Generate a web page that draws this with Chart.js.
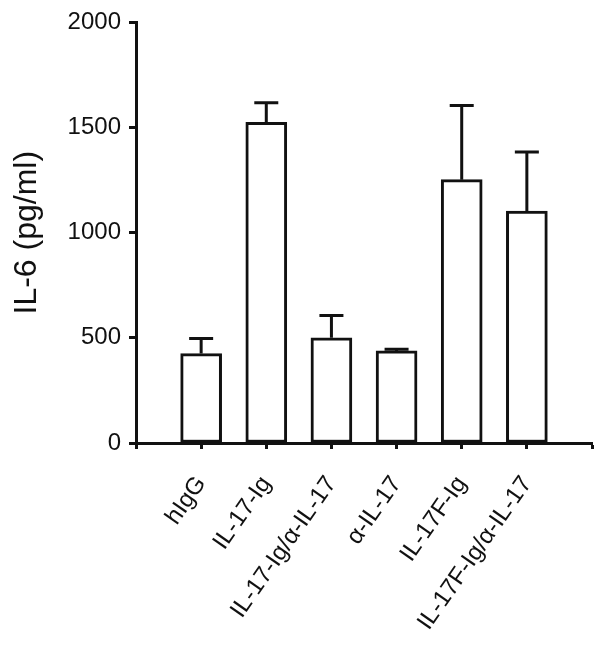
<!DOCTYPE html>
<html>
<head>
<meta charset="utf-8">
<script src="https://cdn.jsdelivr.net/npm/chart.js@4/dist/chart.umd.min.js"></script>
<style>
  html, body { margin: 0; padding: 0; background: #fff; }
  #c { display: block; }
</style>
</head>
<body>
<canvas id="c" width="605" height="654"></canvas>
<script>
const categories = ['hIgG', 'IL-17-Ig', 'IL-17-Ig/α-IL-17', 'α-IL-17', 'IL-17F-Ig', 'IL-17F-Ig/α-IL-17'];
const means = [425, 1525, 500, 438, 1252, 1103];
const errors = [72, 93, 106, 8, 353, 281];
const yTicks = [0, 500, 1000, 1500, 2000];
const yTitle = 'IL-6 (pg/ml)';

const axisLabels = [''].concat(categories, ['']);
const axisData = [null].concat(means, [null]);
const INK = '#111';
const FONT = '"Liberation Sans", Arial, sans-serif';

const errorBars = {
  id: 'errorBars',
  afterDatasetsDraw(chart) {
    const meta = chart.getDatasetMeta(0);
    const y = chart.scales.y;
    const ctx = chart.ctx;
    ctx.save();
    ctx.strokeStyle = INK;
    ctx.lineWidth = 3;
    ctx.lineCap = 'butt';
    means.forEach((m, i) => {
      const el = meta.data[i + 1];
      const x = el.x;
      const y0 = y.getPixelForValue(m);
      const y1 = y.getPixelForValue(m + errors[i]);
      ctx.beginPath();
      ctx.moveTo(x, y0);
      ctx.lineTo(x, y1);
      ctx.moveTo(x - 12, y1);
      ctx.lineTo(x + 12, y1);
      ctx.stroke();
    });
    ctx.restore();
  }
};

const chart = new Chart(document.getElementById('c'), {
  type: 'bar',
  data: {
    labels: axisLabels,
    datasets: [{
      data: axisData,
      backgroundColor: '#fff',
      borderColor: INK,
      borderWidth: 3,
      borderSkipped: false,
      barThickness: 41
    }]
  },
  options: {
    responsive: false,
    animation: false,
    devicePixelRatio: 1,
    layout: { padding: { left: 0, right: 13, top: 18, bottom: 0 } },
    plugins: { legend: { display: false }, tooltip: { enabled: false } },
    scales: {
      x: {
        type: 'category',
        offset: false,
        grid: { offset: false, drawOnChartArea: false, drawTicks: true, tickLength: 6, tickWidth: 3, tickColor: INK },
        border: { color: INK, width: 3 },
        ticks: {
          autoSkip: false,
          maxRotation: 55,
          minRotation: 55,
          padding: 22,
          color: INK,
          font: { family: FONT, size: 24 }
        },
        afterFit(scale) {
          scale.height = 654 - 443;
          scale.paddingLeft = 0;
          scale.paddingRight = 0;
        }
      },
      y: {
        min: 0,
        max: 2000,
        afterBuildTicks(scale) { scale.ticks = yTicks.map(v => ({ value: v })); },
        grid: { drawOnChartArea: false, drawTicks: true, tickLength: 7, tickWidth: 3, tickColor: INK },
        border: { color: INK, width: 3 },
        ticks: {
          padding: 8,
          color: INK,
          font: { family: FONT, size: 24 },
          callback: (v) => String(v)
        },
        title: {
          display: true,
          text: yTitle,
          color: INK,
          font: { family: FONT, size: 32 },
          padding: { top: 8, bottom: 0 }
        },
        afterFit(scale) { scale.width = 136; }
      }
    }
  },
  plugins: [errorBars]
});
</script>
</body>
</html>
